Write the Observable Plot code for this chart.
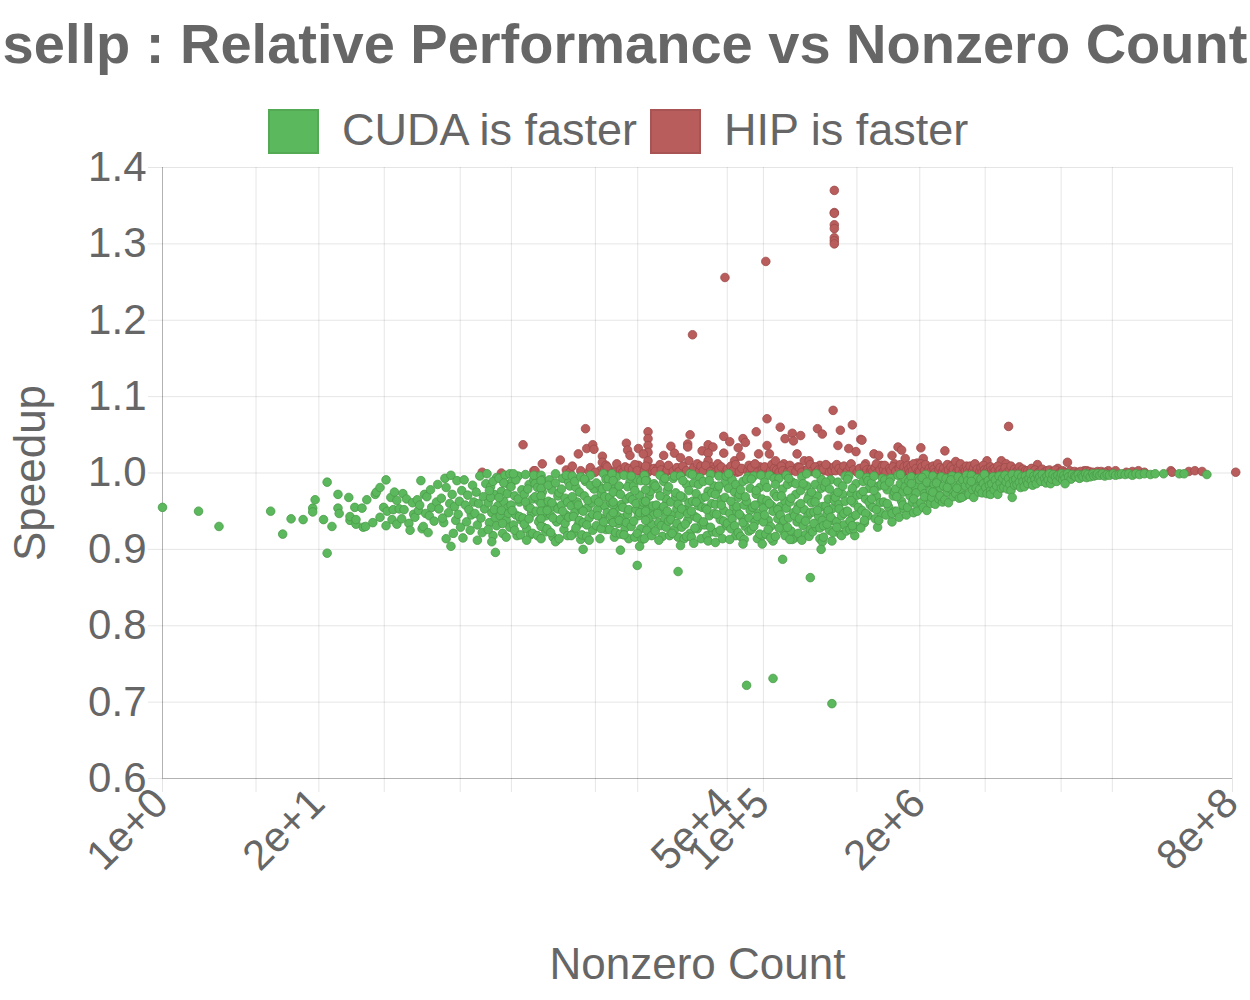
<!DOCTYPE html>
<html>
<head>
<meta charset="utf-8">
<script src="https://cdn.jsdelivr.net/npm/d3@7"></script>
<script src="https://cdn.jsdelivr.net/npm/@observablehq/plot@0.6"></script>
<style>
  body { margin: 0; background: #fff; font-family: "Liberation Sans", Arial, Helvetica, sans-serif; color: #666; }
  #wrap { width: 1250px; height: 1000px; position: relative; overflow: hidden; }
  #head { position: relative; width: 1250px; height: 160px; }
  #title { position: absolute; left: 0; top: 16px; width: 1250px; text-align: center; font-weight: bold; font-size: 56px; line-height: 56px; white-space: nowrap; }
  .box { position: absolute; top: 109px; width: 51px; height: 45px; box-sizing: border-box; border: 2px solid rgba(0,0,0,0.08); }
  .lab { position: absolute; top: 107px; font-size: 45px; line-height: 45px; white-space: nowrap; }
</style>
</head>
<body>
<div id="wrap">
  <div id="head">
    <div id="title">sellp : Relative Performance vs Nonzero Count</div>
    <div class="box" style="left:268px;background:#5cb85c"></div>
    <div class="lab" style="left:342px">CUDA is faster</div>
    <div class="box" style="left:650px;background:#b85c5c"></div>
    <div class="lab" style="left:724px">HIP is faster</div>
  </div>
  <div id="chart"></div>
</div>
<script>
// x axis: grid positions and labelled ticks (nonzero count, log scale)
const gridTicks = [1, 6, 20, 70, 300, 800, 4000, 9000, 5e4, 1e5, 6e5, 2e6, 7e6, 3e7, 8e7, 8e8];
const labelTicks = [1, 20, 5e4, 1e5, 2e6, 8e8];
const yTicks = [0.6, 0.7, 0.8, 0.9, 1.0, 1.1, 1.2, 1.3, 1.4];

// Points. Each string: "C|tokens", C = 10*log10(nnz) column,
// token = first digit: extra hundredths of log10(nnz), remaining digits: speedup.
// CUDA faster: speedup = digits/1000
const cudaCols = [
"00|0955","03|0950","04|7930","09|0950","10|0920 7940","11|7939",
"12|5954 5949 7965","13|4939 7988 7895","14|1930 6972 6954 7947","15|5968 6938 6943",
"16|0955 6954 1933 1939 7929 9930","17|0965 5935 7972 8975","18|1981 1942 4955 6931 6991 7950",
"19|1939 0968 3975 5964 2952 7953 5933 9940","20|0973 1952 5934 3966 8961 9946 6925",
"21|0942 2965 3951 5990 6927 7930 4958 8972 9947","22|0969 2944 3978 4955 6937 8962 9985 1922",
"23|0953 2967 4935 5993 6914 6981 8948 9960 3941","24|0904 0997 1972 3956 4938 5990 7963 8929 9977 6946 2921",
"25|1991 2958 3936 4971 6925 7945 8984 9962 0915 5952","26|0947 1975 2932 3960 4996 5941 6922 7969 8953 9986 2912",
"27|0999 1961 2935 3982 4948 5918 6972 7941 8994 9957 1926 3968 5989 6952 8931 2977 7896 4910",
"28|0993 1944 2976 3921 4963 5997 6938 7954 8985 9929 0968 2951 4987 6916 7973 8947 9999 3934",
"29|0958 1989 2932 3970 4945 5918 6996 7962 8939 9978 1951 3925 4991 6966 7943 8919 0982 2999",
"30|0941 1972 2998 3927 4956 5985 6919 7947 8966 9991 1933 2962 4979 5940 6954 8921 9997 3912",
"31|0986 1950 2918 3964 4939 5997 6975 7929 8958 9944 0969 2981 3936 5914 6991 7961 8949 9923 5990 5980 5970 5960 5950 5940 5930",
"32|0927 1963 2991 3945 4978 5916 6956 7999 8936 9970 0951 1984 3922 4961 5941 7987 8912 9953 7910",
"33|0974 1939 2958 3993 4926 5967 6945 7918 8988 9960 0914 2979 3950 5934 6997 7962 8942 9983",
"34|0957 1996 2921 3948 4981 5962 6933 7975 8913 9952 1969 2943 3989 4928 6958 7938 8995 9919 0918",
"35|0935 1970 2989 3917 4955 5941 6997 7961 8925 9979 0950 1992 3932 4964 5912 6984 8946 0900",
"36|0966 1931 2952 3984 4914 5973 6940 7999 8957 9926 1987 2944 3962 5927 6979 7936 8969 9992",
"37|0948 1992 2926 3961 4937 5979 6916 7953 8995 9934 0982 2968 3944 4999 5958 7922 8976 9943 5990 5975 5962 5948 5935",
"38|0983 1920 2959 3941 4997 5928 6966 7946 8914 9988 0938 1972 3955 4919 6935 7982 8952 9969 1899",
"39|0930 1965 2983 3916 4952 5991 6944 7971 8927 9958 0996 2937 3977 4960 5921 7948 8990 9913 5879 7904",
"40|0962 1914 2946 3990 4928 5970 6954 7933 8981 9945 1997 2963 3925 4940 6976 7918 8957 9986 2990 2978 2963 2950 2938",
"41|0924 1958 2979 3935 4997 5951 6917 7989 8940 9966 0983 2947 3912 4970 5931 7956 8993 9929",
"42|0977 1937 2918 3962 4945 5993 6926 7969 8953 9916 0950 1982 3939 4921 6996 7974 8934 9959 9871",
"43|0945 1996 2929 3968 4914 5952 6985 7938 8961 9921 1970 2953 3990 5933 6917 7947 8977 9999 1905",
"44|0916 1963 2987 3943 4973 5927 6957 7994 8932 9967 0950 1998 3928 4962 5941 6985 8914 9955 2908",
"45|0989 1932 2954 3918 4976 5944 6998 7960 8923 9983 0936 2969 3952 4911 5990 6929 7974 9947",
"46|0959 1922 2978 3996 4939 5965 6914 7951 8987 9931 0972 1946 3983 4925 5958 7937 8968 9996 0909",
"47|0934 1980 2947 3927 4991 5956 6975 7918 8949 9968 1999 2913 3963 4940 6931 7985 8956 9922",
"48|0972 1917 2942 3989 4958 5930 6963 7995 8924 9951 0946 1978 3935 4913 5969 6992 8941 9980 6722 3907",
"49|0926 1955 2996 3936 4972 5914 6947 7981 8962 9918 0992 2930 3958 4977 5943 7920 8997 9966 9907",
"50|0954 1988 2920 3964 4938 5997 6930 7957 8911 9973 0936 1945 3981 4926 5960 6915 8950 9993 8731",
"51|0917 1969 2940 3993 4956 5931 6979 7923 8963 9997 0985 2952 3928 4945 5970 7938 8918 9954 6887",
"52|0985 1941 2962 3924 4988 5948 6915 7972 8936 9957 0929 1993 3967 4913 6944 7986 8952 9921 2913",
"53|0940 1977 2995 3931 4952 5919 6983 7944 8971 9926 1960 2912 3986 5937 6999 7966 8917 9948 9863",
"54|0961 1923 2949 3985 4929 5970 6943 7914 8992 9956 0975 2934 3962 4999 5951 7928 8980 9938 9910 8900",
"55|0931 1982 2957 3947 4966 5925 6991 7953 8938 9970 0916 2988 3933 4951 5979 6942 8922 9964 7698 7911",
"56|0968 1936 2988 3959 4920 5944 6972 7932 8996 9950 1929 2975 3953 5918 6983 7947 8963 9924",
"57|0950 1996 2926 3973 4942 5961 6918 7986 8930 9955 0992 2937 3964 4980 5927 7945 8971 4931",
"58|0998 1972 2951 3989 4935 5966 6994 7944 8980 9958 1928 3976 5947 7990 8962 4938",
"59|0987 1955 2996 3940 4970 5929 6983 7961 8948 9993 0966 2977 4952 6938 8985",
"60|0962 1991 2945 3978 4956 6993 7936 8970 9950 1983 3960 5988 7947 9975",
"61|0979 1950 2997 3942 4986 5963 6975 7953 8991 9945 1969 4998 6958 8982",
"62|0955 1989 2970 3995 4962 5948 6982 7974 8958 9993 0977 3986 5966 8950",
"63|0991 1961 2981 3955 4973 5998 6951 7986 8965 9977 2994 4969 6988 9960",
"64|0968 1996 2985 3959 4977 5990 6966 7981 8995 9962 1975 4987 7970",
"65|0983 1965 2993 3975 4961 5988 6979 7996 8969 9984 3981 6991",
"66|0973 2995 3967 4986 5978 6991 7970 8983 9997 1980 5968",
"67|0990 1972 2984 3997 4978 5968 6987 7980 8993 9975 3989",
"68|0979 1992 2974 3986 4998 5981 6973 7990 8984 9977 9972",
"69|0986 1995 2978 3991 4983 5972 6996 7987 8980 9993",
"70|0981 1997 2988 3979 4993 5985 6977 7968 7998 8990 9984",
"71|0992 1985 2998 3988 4981 5995 6989 7982 8996 9990",
"72|0986 1993 2999 3990 4984 5996 6992 7986 8998 9993",
"73|0995 1989 2998 4993 5987 6996 7991 8999 9986",
"74|0992 1998 3995 4989 5997 7994 8999 9991",
"75|0997 1993 3999 4995 6992 7998 9996 1986",
"76|0995 2998 3993 5997 6995 8999 9994",
"77|0998 2995 4999 5996 7997 8999",
"78|0997 2999 4996 6998 8997",
"79|1999 3997 6998 8999","80|1998 4999 7997","81|0999 3998 7999","82|2998 6999",
"83|3999","84|6999","85|0999","86|9998"
];

// HIP faster: speedup = 1 + digits/1000
const hipCols = [
"26|6001","28|2000","30|0037 9003","31|0003 6012","33|1017 6004 9001","34|1009 6025 8003",
"35|2058 3032 8037 9031 5002 6007","36|4003 6022 6014 0001 8005 9010","37|3003 0008 6001 8012",
"38|6039 7030 9023 1004 3001 5008 8006","39|6032 6010 8002 1005 3011 5003",
"40|4054 4045 4036 4027 4016 4008 4001 0025 7004 1003 2009 9006",
"41|2006 7023 7006 0002 4011 5004 9001","42|3035 6026 0004 1010 5002 8007 9001",
"43|1020 5002 7038 9050 7034 8016 0002 3009 6003","44|4004 9029 1181 0001 2007 5012 7003 8009",
"45|4037 8034 4026 4016 7008 9005 0003 2010 6002","46|7048 7026 8003 8256 0001 2012 3005 5008 9002",
"47|2041 6016 8001 9033 0005 3009 5003 7011","48|3045 5040 1022 0002 2006 7003 8010 9001",
"49|4054 6025 1003 7008 0007 3012 5001 9004","50|3036 3071 5025 8004 2277 0001 1008 6003 7011 9006",
"51|0016 4060 7012 8045 9002 1004 3001 5009 6003","52|4052 5042 8025 1003 6006 0001 2010 3003 7002 9008",
"53|1049 4016 8016 5003 0007 2001 7005 9011","54|5058 9051 2005 7010 0002 3008 4001 6004 9006",
"55|8082 1003 4008 9370 9341 9340 9325 9320 9308 9304 9300 0005 2011 5001 7003 9008",
"56|2036 4056 8001 0003 1011 3006 5002 7009 9001","57|4063 1032 7028 9004 0002 2008 3012 5004 8001",
"58|1044 2043 5012 8002 0006 3001 4009 6004 9003","59|2025 6023 0005 8010 1002 3007 4012 5001 7004 9009",
"60|7023 3002 9012 0004 1010 2001 5006 6003 8008","61|2034 5030 8019 1004 0002 3006 4011 6001 7008 9003",
"62|0010 6002 8013 1005 2001 3009 4003 5012 7006 9002","63|1033 3019 1012 6004 0001 2008 4003 5011 7002 8006",
"64|4006 8002 0003 1009 2005 3001 5012 6004 7007 9002","65|1029 5010 9003 0006 2002 3011 4004 6008 7001 8005",
"66|0015 5004 1002 2007 3004 4012 6001 7006 8003 9009","67|0004 1001 2009 4003 5007 6012 7002 8005",
"68|6016 0002 1007 2001 3010 4004 5001 7006 8002 9008","69|8016 0004 1001 2006 3003 5009 6002 7004 9001",
"70|2012 4061 0002 1007 3001 5004 6009 8002 9005","71|0001 2004 3008 4002 6005 7001 8003",
"72|8011 0003 2001 3006 5002 6004 9001","73|0002 2005 4001 6003 8004","74|5006 1002 3004 7001 9003",
"75|3014 7001 0001 5003 9002","76|7003 2001 4002 9003","77|1002 4001 8002","78|1002 7003 4001",
"79|3003","80|7002 2001","81|2003 7001","83|9003","84|0001","85|4002 9003","86|5002","89|3001"
];

function parseCols(cols, base) {
  const out = [];
  for (const s of cols) {
    const [c, toks] = s.split("|");
    for (const t of toks.trim().split(/\s+/)) {
      const lg = (+c) / 10 + (+t[0]) / 100;
      out.push({nnz: Math.pow(10, lg), speedup: base + (+t.slice(1)) / 1000});
    }
  }
  return out;
}
const cuda = parseCols(cudaCols, 0);
const hip = parseCols(hipCols, 1);
const fmtX = d3.format(".0e");

const chart = Plot.plot({
  width: 1250,
  height: 840,
  marginTop: 7,
  marginBottom: 222,
  marginLeft: 162,
  marginRight: 18,
  style: {fontFamily: "'Liberation Sans', Arial, Helvetica, sans-serif", color: "#666", background: "#fff", overflow: "visible"},
  x: {type: "log", domain: [1, 8e8]},
  y: {domain: [0.6, 1.4]},
  marks: [
    Plot.gridY(yTicks, {stroke: "#000", strokeOpacity: 0.1}),
    Plot.gridX(gridTicks, {stroke: "#000", strokeOpacity: 0.1}),
    Plot.axisX({ticks: gridTicks, tickSize: 14, tickFormat: () => "", label: null, stroke: "#000", strokeOpacity: 0.1}),
    Plot.axisY({ticks: yTicks, tickSize: 14, tickPadding: 2, fontSize: 42, tickFormat: d3.format(".1f"), label: null, stroke: "#000", strokeOpacity: 0.1, fill: "#666"}),
    Plot.ruleY([0.6], {stroke: "#000", strokeOpacity: 0.22}),
    Plot.ruleX([1], {stroke: "#000", strokeOpacity: 0.22}),
    Plot.dot(hip, {x: "nnz", y: "speedup", r: 4.3, fill: "#b85c5c", stroke: "#9e4a4a", strokeWidth: 0.8}),
    Plot.dot(cuda, {x: "nnz", y: "speedup", r: 4.3, fill: "#5cb85c", stroke: "#4a9c4a", strokeWidth: 0.8}),
    Plot.text(labelTicks, {x: d => d, frameAnchor: "bottom", text: d => fmtX(d), rotate: -45, textAnchor: "end", lineAnchor: "top", dx: -13, dy: 6, fontSize: 42, fill: "#666"}),
    Plot.text(["Nonzero Count"], {frameAnchor: "bottom", dy: 186, fontSize: 44, textAnchor: "middle", lineAnchor: "middle", fill: "#666"}),
    Plot.text(["Speedup"], {frameAnchor: "left", dx: -132, rotate: -90, fontSize: 44, textAnchor: "middle", lineAnchor: "middle", fill: "#666"})
  ]
});
document.getElementById("chart").appendChild(chart);
</script>
</body>
</html>
